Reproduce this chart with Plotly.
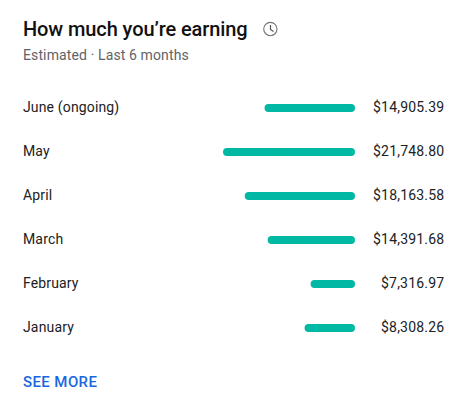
import plotly.graph_objects as go

months = ["June (ongoing)", "May", "April", "March", "February", "January"]
earnings = [14905.39, 21748.80, 18163.58, 14391.68, 7316.97, 8308.26]
earning_labels = ["$14,905.39", "$21,748.80", "$18,163.58", "$14,391.68", "$7,316.97", "$8,308.26"]

W, H = 475, 407
L, R, T, B = 223, 355, 86, 350
FONT = "Roboto, sans-serif"
INK = "#202124"
GREY = "#5f6368"
TEAL = "#00b8a3"

def px(x):
    return (x - L) / (R - L)

def py(y):
    return 1 - (y - T) / (B - T)

annotations = []

def text(x, y, s, size, color, anchor="left", yref="paper", style="", yshift=0):
    annotations.append(dict(
        x=px(x), xref="paper", y=py(y) if yref == "paper" else y, yref=yref,
        text=f"<span style='{style}'>{s}</span>", showarrow=False, xanchor=anchor, yanchor="middle",
        font=dict(family=FONT, size=size, color=color), align=anchor,
        borderpad=0, borderwidth=0, yshift=yshift,
    ))

text(23, 29, "How much you’re earning", 20, "#111111", style="font-weight:500;letter-spacing:-0.09px")
text(23, 55, "Estimated · Last 6 months", 14, GREY, style="letter-spacing:0.12px")
for m, lab in zip(months, earning_labels):
    text(23, m, m, 14, INK, yref="y", style="letter-spacing:0.15px", yshift=1)
    text(444, m, lab, 14, INK, anchor="right", yref="y", style="letter-spacing:0.2px", yshift=1)
text(23, 382, "SEE MORE", 15, "#1967e0", style="font-weight:500;letter-spacing:0.4px")

shapes = [
    dict(type="circle", xref="paper", yref="paper",
         x0=px(263.7), x1=px(277), y0=py(35.7), y1=py(22.4),
         line=dict(color="#757575", width=1.1), fillcolor="rgba(0,0,0,0)"),
    dict(type="path", xref="paper", yref="paper",
         path=f"M {px(270.5)} {py(25)} L {px(270.5)} {py(29.5)} L {px(273.5)} {py(31.5)}",
         line=dict(color="#555555", width=1.2)),
]

# Two overlapping halves so that both ends of each bar are rounded.
fig = go.Figure()
fig.add_trace(go.Bar(
    y=months, x=[e * 0.6 for e in earnings], base=[e * 0.4 for e in earnings], orientation="h",
    marker=dict(color=TEAL, line=dict(width=0)), hoverinfo="skip",
))
fig.add_trace(go.Bar(
    y=months, x=[-e * 0.6 for e in earnings], base=[e * 0.6 for e in earnings], orientation="h",
    marker=dict(color=TEAL, line=dict(width=0)), hoverinfo="skip",
))
fig.update_layout(
    width=W, height=H, autosize=False,
    margin=dict(l=L, r=W - R, t=T, b=H - B, pad=0),
    paper_bgcolor="white", plot_bgcolor="white",
    barmode="overlay", bargap=1 - 8 / 44, barcornerradius=4,
    showlegend=False,
    annotations=annotations, shapes=shapes,
    xaxis=dict(range=[max(earnings), 0], visible=False, fixedrange=True),
    yaxis=dict(categoryorder="array", categoryarray=months, autorange="reversed",
               visible=False, fixedrange=True),
)
fig.write_html("out.html", config={"displayModeBar": False},
               post_script="document.body.style.margin='0';document.documentElement.style.overflow='hidden';")
